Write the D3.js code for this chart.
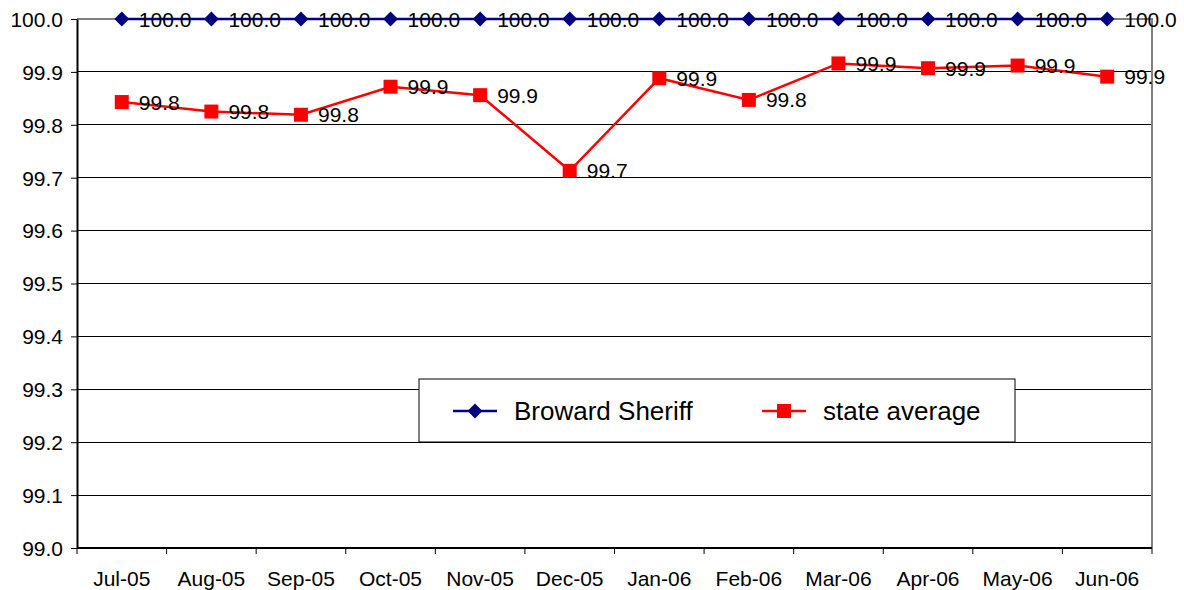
<!DOCTYPE html>
<html>
<head>
<meta charset="utf-8">
<script src="https://cdn.jsdelivr.net/npm/d3@7"></script>
<style>
  body { margin: 0; background: #fff; }
  svg text { font-family: "Liberation Sans", Arial, sans-serif; fill: #000; }
</style>
</head>
<body>
<svg id="chart" width="1184" height="590"></svg>
<script>
const months = ["Jul-05", "Aug-05", "Sep-05", "Oct-05", "Nov-05", "Dec-05",
  "Jan-06", "Feb-06", "Mar-06", "Apr-06", "May-06", "Jun-06"];
const broward = [100, 100, 100, 100, 100, 100, 100, 100, 100, 100, 100, 100];
const stateAvg = [99.843, 99.825, 99.819, 99.872, 99.856, 99.713,
  99.888, 99.847, 99.916, 99.907, 99.912, 99.891];
const yTicks = [99.0, 99.1, 99.2, 99.3, 99.4, 99.5, 99.6, 99.7, 99.8, 99.9, 100.0];

const margin = { top: 19, right: 32, bottom: 42, left: 77 };
const width = 1184 - margin.left - margin.right;
const height = 590 - margin.top - margin.bottom;

const svg = d3.select("#chart");
const g = svg.append("g").attr("transform", `translate(${margin.left},${margin.top})`);

const x = d3.scaleBand().domain(months).range([0, width]);
const y = d3.scaleLinear().domain([99, 100]).range([height, 0]);

// gridlines
g.append("g")
  .selectAll("line")
  .data(yTicks.slice(1, -1))
  .join("line")
  .attr("x1", 0).attr("x2", width)
  .attr("y1", d => y(d)).attr("y2", d => y(d))
  .attr("stroke", "#000").attr("stroke-width", 1)
  .attr("shape-rendering", "crispEdges");

// plot border top/right gray
g.append("path")
  .attr("d", `M0,${y(100)}H${width}V${height}`)
  .attr("fill", "none").attr("stroke", "#808080").attr("stroke-width", 2)
  .attr("shape-rendering", "crispEdges");

// y axis
const yAxis = g.append("g")
  .call(d3.axisLeft(y).tickValues(yTicks).tickFormat(d3.format(".1f")).tickSize(6).tickSizeOuter(0));
yAxis.select(".domain").attr("stroke", "#000").attr("stroke-width", 2);
yAxis.selectAll(".tick line").attr("stroke", "#000");
yAxis.selectAll("text").attr("font-size", 21).attr("x", -14).attr("dy", "0.35em");

// x axis: ticks at category boundaries
const xg = g.append("g").attr("transform", `translate(0,${height})`);
xg.append("line").attr("x1", 0).attr("x2", width).attr("stroke", "#000").attr("stroke-width", 2);
xg.selectAll("line.tk")
  .data(months.concat(["end"]))
  .join("line")
  .attr("class", "tk")
  .attr("x1", (d, i) => i * x.bandwidth()).attr("x2", (d, i) => i * x.bandwidth())
  .attr("y1", 0).attr("y2", 6)
  .attr("stroke", "#000");
xg.selectAll("text")
  .data(months)
  .join("text")
  .attr("x", d => x(d) + x.bandwidth() / 2)
  .attr("y", 38)
  .attr("text-anchor", "middle")
  .attr("font-size", 21)
  .text(d => d);

const cx = d => x(d) + x.bandwidth() / 2;

const series = [
  { name: "Broward Sheriff", values: broward, color: "#000080", marker: d3.symbolDiamond2, msize: 140 },
  { name: "state average", values: stateAvg, color: "#ff0000", marker: d3.symbolSquare, msize: 196 }
];

const line = d3.line().x((d, i) => cx(months[i])).y(d => y(d));

series.forEach(s => {
  g.append("path")
    .datum(s.values)
    .attr("fill", "none")
    .attr("stroke", s.color)
    .attr("stroke-width", 2.5)
    .attr("d", line);
  g.append("g")
    .selectAll("path")
    .data(s.values)
    .join("path")
    .attr("transform", (d, i) => `translate(${cx(months[i])},${y(d)})`)
    .attr("d", d3.symbol().type(s.marker).size(s.msize))
    .attr("fill", s.color);
  g.append("g")
    .selectAll("text")
    .data(s.values)
    .join("text")
    .attr("x", (d, i) => cx(months[i]) + 17)
    .attr("y", d => y(d))
    .attr("dy", "0.36em")
    .attr("font-size", 21)
    .text(d => d3.format(".1f")(d));
});

// legend
const lg = svg.append("g").attr("transform", "translate(419,379)");
lg.append("rect").attr("width", 596).attr("height", 63)
  .attr("fill", "#fff").attr("stroke", "#000").attr("stroke-width", 1);
const legendX = [34, 343];
series.forEach((s, k) => {
  const item = lg.append("g").attr("transform", `translate(${legendX[k]},32)`);
  item.append("line").attr("x1", 0).attr("x2", 44).attr("stroke", s.color).attr("stroke-width", 2.5);
  item.append("path").attr("transform", "translate(22,0)")
    .attr("d", d3.symbol().type(s.marker).size(s.msize)).attr("fill", s.color);
  item.append("text").attr("x", 61).attr("dy", "0.36em").attr("font-size", 26).text(s.name);
});
</script>
</body>
</html>
